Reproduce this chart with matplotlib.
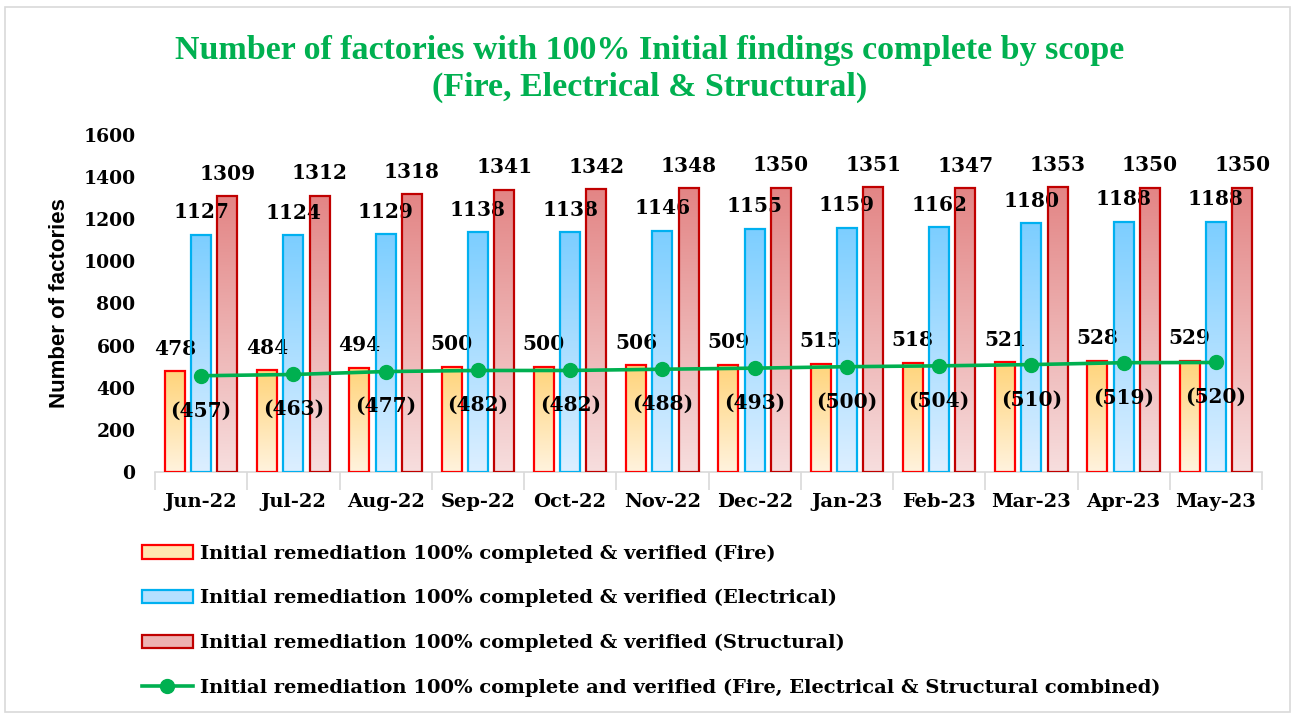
import numpy as np
import matplotlib
matplotlib.use('Agg')
import matplotlib.pyplot as plt
from matplotlib.colors import LinearSegmentedColormap
from matplotlib.patches import Rectangle, Patch
from matplotlib.lines import Line2D

months = ['Jun-22', 'Jul-22', 'Aug-22', 'Sep-22', 'Oct-22', 'Nov-22',
          'Dec-22', 'Jan-23', 'Feb-23', 'Mar-23', 'Apr-23', 'May-23']
fire = [478, 484, 494, 500, 500, 506, 509, 515, 518, 521, 528, 529]
electrical = [1127, 1124, 1129, 1138, 1138, 1146, 1155, 1159, 1162, 1180, 1188, 1188]
structural = [1309, 1312, 1318, 1341, 1342, 1348, 1350, 1351, 1347, 1353, 1350, 1350]
combined = [457, 463, 477, 482, 482, 488, 493, 500, 504, 510, 519, 520]

labels = ['Initial remediation 100% completed & verified (Fire)',
          'Initial remediation 100% completed & verified (Electrical)',
          'Initial remediation 100% completed & verified (Structural)',
          'Initial remediation 100% complete and verified (Fire, Electrical & Structural combined)']

GREEN = '#00B050'
serif = 'DejaVu Serif'
FS = 14

fig = plt.figure(figsize=(12.99, 7.15), dpi=100)
ax = fig.add_axes([155/1299, 1-472/715, 1107/1299, 337/715])

x = np.arange(len(months))
w = 0.215
off = 0.285
series = [
    (fire, -off, '#FF0000', '#FFD47A', '#FFF3DE'),
    (electrical, 0, '#00B0F0', '#7CCEFF', '#DDEFFF'),
    (structural, off, '#C00000', '#E38585', '#F7DEDE'),
]

# bars with a vertical gradient fill (dark at top, light at bottom)
for vals, dx, edge, ctop, cbot in series:
    cmap = LinearSegmentedColormap.from_list('g', [cbot, ctop])
    bars = ax.bar(x + dx, vals, w, facecolor='none', edgecolor=edge, linewidth=1.6, zorder=3)
    grad = np.linspace(0, 1, 256).reshape(-1, 1)
    for b in bars:
        x0, y0 = b.get_x(), b.get_y()
        im = ax.imshow(grad, cmap=cmap, origin='lower', aspect='auto',
                       extent=[x0, x0 + b.get_width(), y0, y0 + b.get_height()], zorder=2)
        im.set_clip_path(b)
    for xi, v in zip(x + dx, vals):
        ax.annotate(str(v), (xi, v), xytext=(0, 9), textcoords='offset points',
                    ha='center', va='bottom', fontsize=FS + 0.5, fontweight='bold', family=serif)

ax.plot(x, combined, color=GREEN, linewidth=2.6, marker='o', markersize=10, zorder=5)
for xi, v in zip(x, combined):
    ax.annotate('(%d)' % v, (xi, v), xytext=(0, -25), textcoords='offset points',
                ha='center', va='center', fontsize=FS + 0.5, fontweight='bold', family=serif, zorder=6)

ax.set_xlim(-0.5, 11.5)
ax.set_ylim(0, 1600)
ax.set_yticks(np.arange(0, 1601, 200))
ax.set_xticks(x)
ax.set_xticklabels(months)
ax.set_xticks(np.arange(-0.5, 12, 1), minor=True)
ax.tick_params(axis='x', which='major', length=0, pad=15)
ax.tick_params(axis='x', which='minor', length=13, color='#D9D9D9', width=1.2)
ax.tick_params(axis='y', length=0, pad=14)
for lab in ax.get_xticklabels():
    lab.set_fontfamily(serif)
    lab.set_fontweight('bold')
    lab.set_fontsize(FS)
for lab in ax.get_yticklabels():
    lab.set_fontfamily(serif)
    lab.set_fontweight('bold')
    lab.set_fontsize(13.5)
for s in ['top', 'right', 'left']:
    ax.spines[s].set_visible(False)
ax.spines['bottom'].set_color('#D9D9D9')
ax.spines['bottom'].set_linewidth(1.2)
ax.set_ylabel('Number of factories', fontsize=16, fontweight='bold', family='Liberation Sans', labelpad=10)

fig.text(0.5, 1-50/715, 'Number of factories with 100% Initial findings complete by scope',
         ha='center', va='center', color=GREEN, fontsize=24.5, fontweight='bold', family='Liberation Serif')
fig.text(0.5, 1-87/715, '(Fire, Electrical & Structural)',
         ha='center', va='center', color=GREEN, fontsize=24.5, fontweight='bold', family='Liberation Serif')

handles = [Patch(facecolor='#FFE6B0', edgecolor='#FF0000', linewidth=1.6),
           Patch(facecolor='#B5E0FF', edgecolor='#00B0F0', linewidth=1.6),
           Patch(facecolor='#EDB2B2', edgecolor='#C00000', linewidth=1.6),
           Line2D([], [], color=GREEN, linewidth=2.6, marker='o', markersize=10)]
fig.legend(handles, labels, loc='upper left', bbox_to_anchor=(124/1299, 1-527/715),
           frameon=False, prop={'family': serif, 'weight': 'bold', 'size': FS},
           handlelength=2.63, handleheight=0.7, handletextpad=0.36, labelspacing=1.36)

fig.add_artist(Rectangle((5/1299, 3/715), 1285/1299, 705/715, transform=fig.transFigure,
                         fill=False, edgecolor='#D9D9D9', linewidth=1.2))

fig.savefig('out.png', dpi=100)
